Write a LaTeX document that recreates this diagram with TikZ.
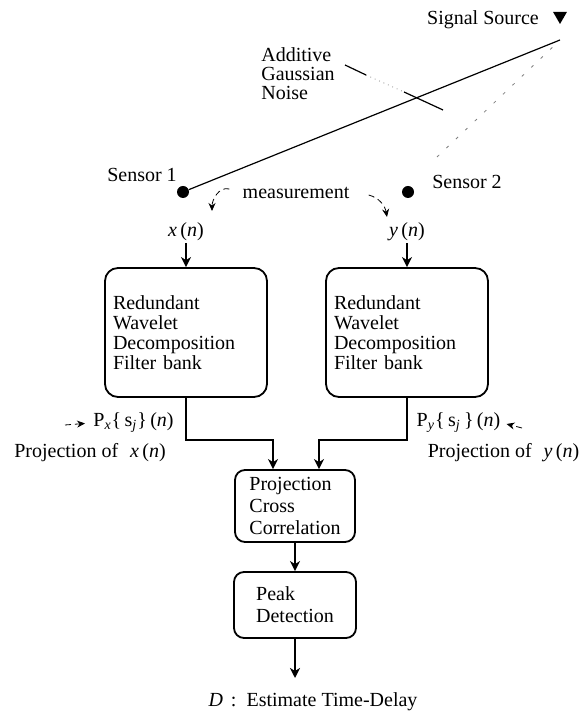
\documentclass[tikz,border=0pt]{standalone}
\usepackage{fontspec}
\setmainfont{Liberation Serif}
\usetikzlibrary{arrows.meta, positioning, shapes.geometric, calc}

\begin{document}
\begin{tikzpicture}[
  x=0.5pt, y=0.5pt,
  font=\fontsize{10}{10}\selectfont,
  lbl/.style={inner sep=1pt, align=left},
  bank/.style={draw, line width=0.9pt, rounded corners=6.5pt, text width=73pt, minimum height=64.5pt, inner xsep=4pt, align=left},
  stage/.style={draw, line width=0.9pt, rounded corners=5pt, align=left, font=\fontsize{10}{11}\selectfont, inner sep=0pt},
  sensor/.style={circle, fill, inner sep=0pt, minimum size=6pt},
  edge/.style={-{Stealth[length=5pt, width=5pt, inset=1.5pt]}, line width=0.9pt},
  hint/.style={-{Stealth[length=4pt, width=3.5pt]}, line width=0.4pt, dash pattern=on 3pt off 2pt},
  ray/.style={line width=0.6pt}
]
\useasboundingbox (0,0) rectangle (586,711);

% source, sensors and the direct path
\node[regular polygon, regular polygon sides=3, shape border rotate=180, fill, inner sep=0pt, minimum size=8pt] (src) at (560,695) {};
\node[lbl] (srclab) at (483,691) {Signal Source};
\coordinate (srctip) at (560,671);
\node[sensor] (s1) at (183,519) {};
\node[sensor] (s2) at (408,519) {};
\node[lbl] (s1lab) at (142,536) {Sensor 1};
\node[lbl] (s2lab) at (467,529) {Sensor 2};
\node[lbl, font=\fontsize{10}{9.5}\selectfont] (noise) at (298,637) {Additive\\Gaussian\\Noise};

\draw[ray] (s1) -- (srctip);
\coordinate (s2ray) at (437,554);
\coordinate (srctip2) at (557,668);
\draw[line width=0.4pt, gray, dash pattern=on 1.5pt off 5pt] (s2ray) -- (srctip2);

% noise crossing the path
\coordinate (nz1) at (345,646);
\coordinate (nz2) at (366,636);
\coordinate (nz3) at (404,619);
\coordinate (nz4) at (443,601);
\draw[ray] (nz1) -- (nz2);
\draw[line width=0.4pt, gray, dotted] (nz2) -- (nz3);
\draw[ray] (nz3) -- (nz4);

% measured signals
\node[lbl] (meas) at (296,518) {measurement};
\node[lbl] (xn) at (186,479) {\textit{x}\,(\textit{n})};
\node[lbl] (yn) at (407,479) {\textit{y}\,(\textit{n})};
\coordinate (mx) at (212,500);
\coordinate (my) at (387,494);
\draw[hint] ([shift={(-5.5pt,2pt)}]meas.west) to[out=165, in=90] (mx);
\draw[hint] ([shift={(8.5pt,-1pt)}]meas.east) to[out=-15, in=100] (my);

% filter banks
\node[bank] (bank1) at (186,378.5) {Redundant\\Wavelet\\Decomposition\\Filter bank};
\node[bank] (bank2) at (407,378.5) {Redundant\\Wavelet\\Decomposition\\Filter bank};
\draw[edge] (xn) -- (bank1);
\draw[edge] (yn) -- (bank2);

% projections
\node[lbl] (px) at (133.5,288) {P\textsubscript{\textit{x}}\{\,s\textsubscript{\textit{j}}\}\,(\textit{n})};
\node[lbl] (py) at (458.5,288) {P\textsubscript{\textit{y}}\{\,s\textsubscript{\textit{j}}\,\}\,(\textit{n})};
\node[lbl] (pxof) at (90,258) {Projection of\hspace{6pt}\textit{x}\,(\textit{n})};
\node[lbl] (pyof) at (503.5,258) {Projection of\hspace{6pt}\textit{y}\,(\textit{n})};
\coordinate (pxtail) at (65,286);
\coordinate (pytail) at (522,283);
\draw[hint, shorten >=3pt] (pxtail) -- (px.west);
\draw[hint, shorten >=2pt] (pytail) -- (py.east);

% correlation and peak detection
\node[stage, minimum width=60pt, minimum height=36pt] (corr) at (295,205) {Projection\\Cross\\Correlation};
\node[stage, minimum width=61pt, minimum height=33pt] (peak) at (295,106) {Peak\\Detection};
\draw[edge] (bank1.south) -- ++(0,-42) -| ([xshift=-11pt]corr.north);
\draw[edge] (bank2.south) -- ++(0,-42) -| ([xshift=12pt]corr.north);
\draw[edge] (corr) -- (peak);
\coordinate (delay) at (295,33);
\draw[edge] (peak) -- (delay);
\node[lbl] (dlab) at (313,9) {\textit{D}\hspace{4pt}:\hspace{5pt}Estimate Time-Delay};
\end{tikzpicture}
\end{document}
